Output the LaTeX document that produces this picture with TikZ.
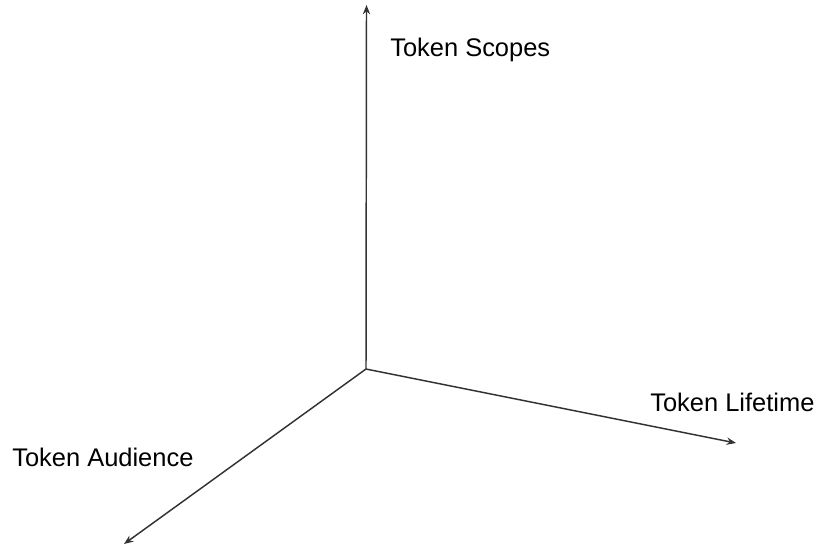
\documentclass[tikz,border=0pt]{standalone}
\usepackage{fontspec}
\setmainfont{Liberation Sans}
\usetikzlibrary{arrows.meta}
\begin{document}
\begin{tikzpicture}[x=0.75pt,y=-0.75pt,
  axis/.style={draw=black!80,line width=1.1pt,-{Stealth[length=7pt,width=5.5pt]}},
  lbl/.style={anchor=base west,inner sep=0pt,font=\fontsize{19.1}{23}\selectfont}]
\useasboundingbox (0,0) rectangle (817,546);
\coordinate (O) at (366,369);
\coordinate (Zt) at (366.5,5);
\coordinate (Xt) at (736,443);
\coordinate (Yt) at (124,544);
\draw[axis] (O) -- (Zt);
\draw[axis] (O) -- (Xt);
\draw[axis] (O) -- (Yt);
\node[lbl] (zs) at (390,56.5) {Token Scopes};
\node[lbl] (xl) at (650,411) {Token Lifetime};
\node[lbl] (ya) at (12,466) {Token Audience};
\end{tikzpicture}
\end{document}
